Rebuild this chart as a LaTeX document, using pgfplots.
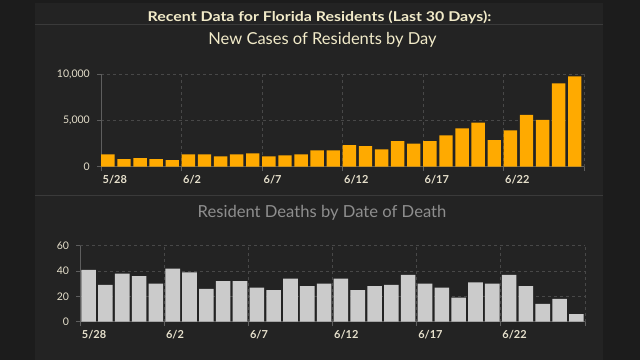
\documentclass[border=0pt]{standalone}
\usepackage{pgfplots}
\pgfplotsset{compat=1.18}
\usepackage{fontspec}
\setmainfont{Lato}
\newfontfamily\titlefont[FakeStretch=1.18]{Lato Bold}
\definecolor{outer}{HTML}{1C1C1C}
\definecolor{panel}{HTML}{232323}
\definecolor{cream}{HTML}{F2EBC9}
\definecolor{ticktext}{HTML}{E6E0CC}
\definecolor{orangebar}{HTML}{FFAA00}
\definecolor{graybar}{HTML}{CBCBCB}
\definecolor{axisline}{HTML}{5E5E5E}
\definecolor{gridc}{HTML}{484848}
\definecolor{subgray}{HTML}{8E8E8E}
\definecolor{sepline}{HTML}{3A3A3A}

\pgfplotstableread{
x cases
0.5 1330
1.5 830
2.5 935
3.5 830
4.5 720
5.5 1330
6.5 1330
7.5 1115
8.5 1330
9.5 1440
10.5 1115
11.5 1220
12.5 1330
13.5 1760
14.5 1760
15.5 2340
16.5 2230
17.5 1870
18.5 2770
19.5 2480
20.5 2770
21.5 3380
22.5 4140
23.5 4750
24.5 2880
25.5 3920
26.5 5580
27.5 5040
28.5 8990
29.5 9750
}\casestable

\pgfplotstableread{
x deaths
0.5 41
1.5 29
2.5 38
3.5 36
4.5 30
5.5 42
6.5 39
7.5 26
8.5 32
9.5 32
10.5 27
11.5 25
12.5 34
13.5 28
14.5 30
15.5 34
16.5 25
17.5 28
18.5 29
19.5 37
20.5 30
21.5 27
22.5 19
23.5 31
24.5 30
25.5 37
26.5 28
27.5 14
28.5 18
29.5 6
}\deathstable

\pgfplotsset{
  darkbar/.style={
    scale only axis,
    anchor=south west,
    xmin=0, xmax=30,
    ymin=0,
    enlargelimits=false,
    axis x line*=bottom,
    axis y line*=left,
    axis line style={draw=axisline, line width=0.6pt, -},
    tick style={draw=axisline, line width=0.6pt},
    tick align=outside,
    major tick length=4pt,
    xtick={0,5,10,15,20,25,30},
    xticklabels={5/28,6/2,6/7,6/12,6/17,6/22,{}},
    xmajorgrids, ymajorgrids,
    major grid style={draw=gridc, dashed, line width=0.5pt},
    xticklabel style={anchor=north west, inner sep=0pt, xshift=1.5pt, yshift=-4pt,
      text=ticktext, font=\bfseries\fontsize{11}{12}\selectfont},
    yticklabel style={anchor=east, inner sep=0pt, xshift=-7pt,
      text=ticktext, font=\fontsize{10.5}{12}\selectfont},
    /pgf/number format/assume math mode=true,
    /pgf/number format/1000 sep={,},
    scaled y ticks=false,
  }
}

\begin{document}
\begin{tikzpicture}
\useasboundingbox (0pt,0pt) rectangle (640pt,360pt);
\fill[outer] (0pt,0pt) rectangle (640pt,360pt);
\fill[panel] (35pt,0pt) rectangle (603pt,357pt);
\draw[sepline, line width=0.8pt] (35pt,335.7pt) -- (603pt,335.7pt);
\draw[sepline, line width=0.8pt] (35pt,165pt) -- (603pt,165pt);
\node[anchor=base, text=cream, font=\titlefont\fontsize{13.5}{14}\selectfont, inner sep=0pt] at (319.5pt,339pt) {Recent Data for Florida Residents (Last 30 Days):};
\node[anchor=base, text=cream, font=\fontsize{16.5}{18}\selectfont, inner sep=0pt] at (322.5pt,315.7pt) {New Cases of Residents by Day};
\node[anchor=base, text=subgray, font=\fontsize{16.6}{18}\selectfont, inner sep=0pt] at (322pt,142.7pt) {Resident Deaths by Date of Death};

\begin{axis}[darkbar,
  at={(101pt,193.3pt)},
  width=483pt, height=92.7pt,
  ymax=10000,
  ytick={0,5000,10000},
]
\addplot[ybar, bar width=13.4pt, bar shift=-1.2pt, fill=orangebar, draw=none] table[x=x, y=cases] {\casestable};
\end{axis}

\begin{axis}[darkbar,
  at={(80.2pt,38.3pt)},
  width=504.6pt, height=76pt,
  ymax=60,
  ytick={0,20,40,60},
]
\addplot[ybar, bar width=14.6pt, bar shift=0pt, fill=graybar, draw=none] table[x=x, y=deaths] {\deathstable};
\end{axis}
\end{tikzpicture}
\end{document}
